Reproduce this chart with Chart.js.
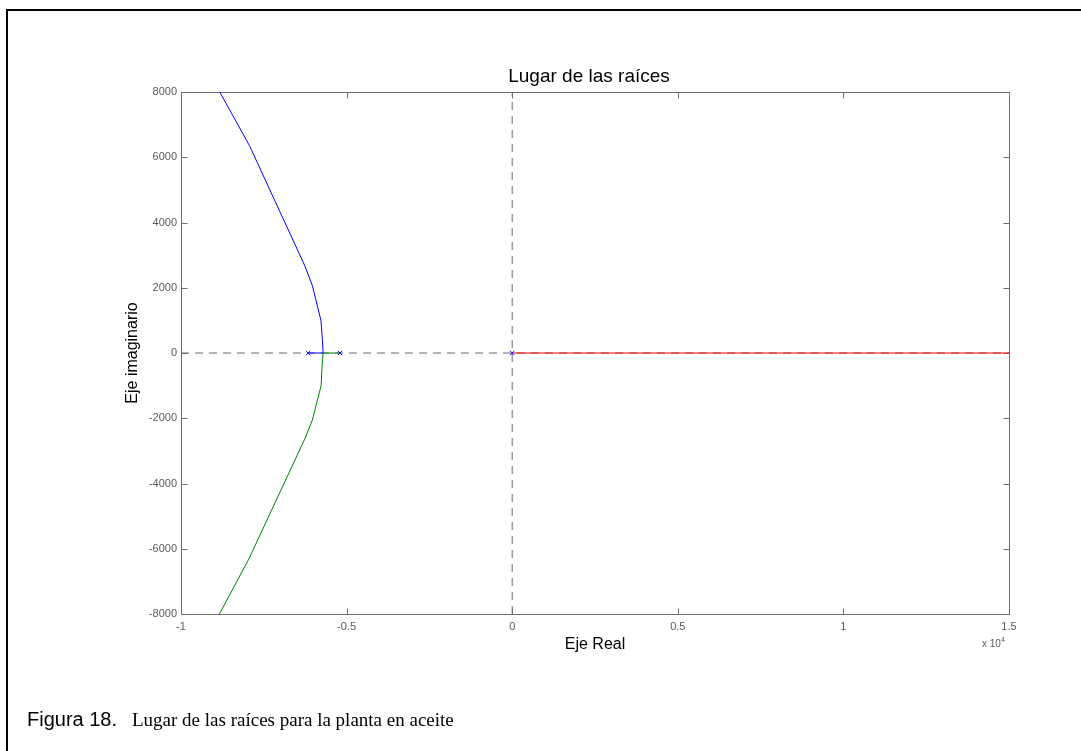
<!DOCTYPE html>
<html>
<head>
<meta charset="utf-8">
<title>Lugar de las raíces</title>
<script src="https://cdn.jsdelivr.net/npm/chart.js@4/dist/chart.umd.min.js"></script>
<style>
  html, body { margin: 0; padding: 0; background: #ffffff; }
  #wrap { width: 1081px; height: 751px; position: relative; }
  canvas { display: block; }
</style>
</head>
<body>
<div id="wrap"><canvas id="rl" width="1081" height="751"></canvas></div>
<script>
// Open-loop poles of the plant
const poles = [
  { x: -6160, y: 0 },
  { x: -5195, y: 0 },
  { x: 0, y: 0 }
];

// Branch leaving the pole at -6160: breakaway, then upper half plane
const branchUpper = [
  { x: -6160, y: 0 },
  { x: -5710, y: 0 },
  { x: -5730, y: 400 },
  { x: -5775, y: 1000 },
  { x: -6035, y: 2070 },
  { x: -6256, y: 2660 },
  { x: -7925, y: 6340 },
  { x: -8830, y: 8000 }
];

// Branch leaving the pole at -5195: breakaway, then lower half plane
const branchLower = [
  { x: -5195, y: 0 },
  { x: -5710, y: 0 },
  { x: -5740, y: -400 },
  { x: -5770, y: -1000 },
  { x: -6035, y: -2060 },
  { x: -6256, y: -2620 },
  { x: -7945, y: -6300 },
  { x: -8840, y: -8000 }
];

// Branch leaving the pole at the origin along the positive real axis
const branchReal = [
  { x: 0, y: 0 },
  { x: 15000, y: 0 }
];

// Axis ranges and ticks
const xRange = [-10000, 15000];
const yRange = [-8000, 8000];
const xTickValues = [-10000, -5000, 0, 5000, 10000, 15000];
const xTickLabels = ['-1', '-0.5', '0', '0.5', '1', '1.5'];
const yTickValues = [-8000, -6000, -4000, -2000, 0, 2000, 4000, 6000, 8000];
const yTickLabels = ['-8000', '-6000', '-4000', '-2000', '0', '2000', '4000', '6000', '8000'];

const AXIS_GREY = '#6f6f6f';
const LABEL_GREY = '#5a5a5a';

// Inward tick marks, axes box and all surrounding text
const framePlugin = {
  id: 'framePlugin',
  beforeDatasetsDraw(chart) {
    const { ctx, chartArea: a, scales } = chart;
    const L = Math.round(a.left) + 0.5, R = Math.round(a.right) + 0.5;
    const T = Math.round(a.top) + 0.5, B = Math.round(a.bottom) + 0.5;
    ctx.save();
    ctx.strokeStyle = AXIS_GREY;
    ctx.lineWidth = 1;
    ctx.strokeRect(L, T, R - L, B - T);
    const tl = 6;
    ctx.beginPath();
    xTickValues.forEach(v => {
      const px = Math.round(scales.x.getPixelForValue(v)) + 0.5;
      ctx.moveTo(px, B); ctx.lineTo(px, B - tl);
      ctx.moveTo(px, T); ctx.lineTo(px, T + tl);
    });
    yTickValues.forEach(v => {
      const py = Math.round(scales.y.getPixelForValue(v)) + 0.5;
      ctx.moveTo(L, py); ctx.lineTo(L + tl, py);
      ctx.moveTo(R, py); ctx.lineTo(R - tl, py);
    });
    ctx.stroke();
    ctx.restore();
  },
  afterDraw(chart) {
    const { ctx, chartArea: a } = chart;
    ctx.save();
    // figure frame
    ctx.strokeStyle = '#000000';
    ctx.lineWidth = 2;
    ctx.beginPath();
    ctx.moveTo(7, 760);
    ctx.lineTo(7, 10);
    ctx.lineTo(1090, 10);
    ctx.stroke();

    ctx.fillStyle = '#000000';
    ctx.textAlign = 'center';
    ctx.textBaseline = 'alphabetic';
    ctx.font = '19px "Liberation Sans", Arial, sans-serif';
    ctx.fillText('Lugar de las raíces', 589, 82);

    ctx.font = '16px "Liberation Sans", Arial, sans-serif';
    ctx.fillText('Eje Real', (a.left + a.right) / 2, 649);

    ctx.save();
    ctx.translate(137, (a.top + a.bottom) / 2);
    ctx.rotate(-Math.PI / 2);
    ctx.fillText('Eje imaginario', 0, 0);
    ctx.restore();

    // exponent of the x axis
    ctx.fillStyle = LABEL_GREY;
    ctx.textAlign = 'left';
    ctx.font = '10px "Liberation Sans", Arial, sans-serif';
    ctx.fillText('x 10', 982, 647);
    ctx.font = '7px "Liberation Sans", Arial, sans-serif';
    ctx.fillText('4', 1001, 642);

    // caption
    ctx.fillStyle = '#000000';
    ctx.font = '20px "Liberation Sans", Arial, sans-serif';
    ctx.fillText('Figura 18.', 27, 726);
    ctx.font = '19px "Liberation Serif", "Times New Roman", serif';
    ctx.fillText('Lugar de las raíces para la planta en aceite', 132, 726);
    ctx.restore();
  }
};

const dashedAxis = {
  borderColor: '#6a6a6a',
  borderWidth: 1,
  borderDash: [8, 6],
  pointRadius: 0,
  showLine: true,
  fill: false,
  order: 5
};

new Chart(document.getElementById('rl'), {
  type: 'scatter',
  data: {
    datasets: [
      Object.assign({ data: [{ x: xRange[0], y: 0 }, { x: xRange[1], y: 0 }] }, dashedAxis),
      Object.assign({ data: [{ x: 0, y: yRange[0] }, { x: 0, y: yRange[1] }] }, dashedAxis),
      { data: branchReal, borderColor: '#ff0000', borderWidth: 1, showLine: true, pointRadius: 0, order: 3 },
      { data: branchLower, borderColor: '#008000', borderWidth: 1, showLine: true, pointRadius: 0, order: 2 },
      { data: branchUpper, borderColor: '#0000ff', borderWidth: 1, showLine: true, pointRadius: 0, order: 2 },
      { data: poles, showLine: false, pointStyle: 'crossRot', pointRadius: 3, borderColor: '#0000ff', borderWidth: 1, order: 1 }
    ]
  },
  options: {
    responsive: false,
    animation: false,
    events: [],
    layout: { padding: { top: 92, right: 72, left: 0, bottom: 0 } },
    plugins: { legend: { display: false }, tooltip: { enabled: false }, title: { display: false } },
    scales: {
      x: {
        type: 'linear',
        min: xRange[0], max: xRange[1],
        grid: { display: false, drawTicks: false },
        border: { display: false },
        afterBuildTicks: s => { s.ticks = xTickValues.map(v => ({ value: v })); },
        afterFit: s => { s.height = 137; },
        ticks: {
          padding: 6,
          color: LABEL_GREY,
          font: { family: '"Liberation Sans", Arial, sans-serif', size: 11 },
          maxRotation: 0,
          callback: v => xTickLabels[xTickValues.indexOf(v)]
        }
      },
      y: {
        type: 'linear',
        min: yRange[0], max: yRange[1],
        grid: { display: false, drawTicks: false },
        border: { display: false },
        afterBuildTicks: s => { s.ticks = yTickValues.map(v => ({ value: v })); },
        afterFit: s => { s.width = 181; },
        ticks: {
          padding: 4,
          color: LABEL_GREY,
          font: { family: '"Liberation Sans", Arial, sans-serif', size: 11 },
          callback: v => yTickLabels[yTickValues.indexOf(v)]
        }
      }
    }
  },
  plugins: [framePlugin]
});
</script>
</body>
</html>
